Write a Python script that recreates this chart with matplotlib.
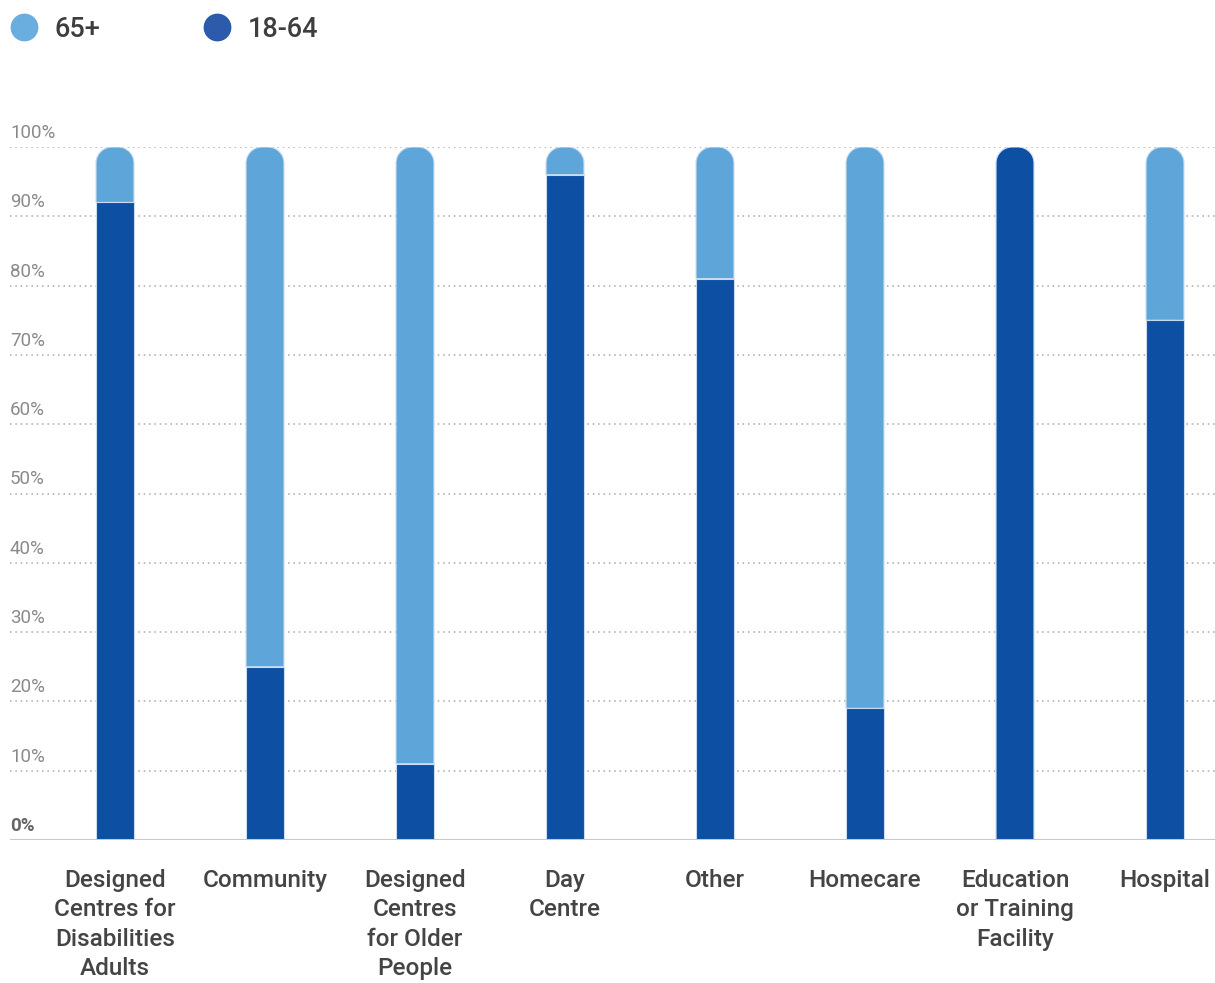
import matplotlib
matplotlib.use("Agg")
import matplotlib.pyplot as plt
from matplotlib.path import Path
from matplotlib.patches import PathPatch
from matplotlib.lines import Line2D
import matplotlib.transforms as mtransforms

categories = [
    "Designed\nCentres for\nDisabilities\nAdults",
    "Community",
    "Designed\nCentres\nfor Older\nPeople",
    "Day\nCentre",
    "Other",
    "Homecare",
    "Education\nor Training\nFacility",
    "Hospital",
]
age_18_64 = [92, 25, 11, 96, 81, 19, 100, 75]
age_65_plus = [8, 75, 89, 4, 19, 81, 0, 25]
y_ticks = [0, 10, 20, 30, 40, 50, 60, 70, 80, 90, 100]

dark = "#0d4fa3"
light = "#5ea6da"
edge = "#c9dcf0"

plt.rcParams["font.family"] = ["Roboto", "Liberation Sans", "DejaVu Sans"]

fig = plt.figure(figsize=(12.15, 9.83), dpi=100)
ax = fig.add_axes([10 / 1215, 1 - 840 / 983, 1205 / 1215, 693 / 983])
ax.set_xlim(-0.7, -0.7 + 1205 / 150)
ax.set_ylim(0, 100)
ax.axis("off")

width = 0.253
# corner radius of the rounded cap, in data units (x, y)
rx = 16 / 150
ry = 16 / 6.93


def rounded_top(x0, y0, w, h):
    k = 0.5523
    x1, y1 = x0 + w, y0 + h
    verts = [
        (x0, y0), (x1, y0), (x1, y1 - ry),
        (x1, y1 - ry + k * ry), (x1 - rx + k * rx, y1), (x1 - rx, y1),
        (x0 + rx, y1),
        (x0 + rx - k * rx, y1), (x0, y1 - ry + k * ry), (x0, y1 - ry),
        (x0, y0),
    ]
    codes = [Path.MOVETO, Path.LINETO, Path.LINETO,
             Path.CURVE4, Path.CURVE4, Path.CURVE4,
             Path.LINETO,
             Path.CURVE4, Path.CURVE4, Path.CURVE4,
             Path.CLOSEPOLY]
    return Path(verts, codes)


# grid lines
for t in y_ticks[1:]:
    ax.axhline(t, color="#a8a8a8", lw=1.1, ls=(0, (1, 2.5)), zorder=0)
ax.axhline(0, color="#c8c8c8", lw=2.2, zorder=3)

for i in range(len(categories)):
    lo = age_18_64[i]
    hi = age_65_plus[i]
    x0 = i - width / 2
    if hi > 0:
        ax.bar(i, lo, width=width, color=dark, edgecolor=edge, lw=0.8, zorder=2)
        p = rounded_top(x0, lo, width, hi)
        ax.add_patch(PathPatch(p, facecolor=light, edgecolor=edge, lw=0.8, zorder=2))
    else:
        p = rounded_top(x0, 0, width, lo)
        ax.add_patch(PathPatch(p, facecolor=dark, edgecolor=edge, lw=0.8, zorder=2))

# y labels sit just above their grid line
trans = mtransforms.offset_copy(ax.get_yaxis_transform(), fig=fig, y=14, units="dots")
for t in y_ticks:
    if t == 0:
        ax.text(0, t, "0%", transform=trans, fontsize=13.5, color="#666666",
                fontweight="bold", va="center", ha="left")
    else:
        ax.text(0, t, f"{t}%", transform=trans, fontsize=13.5, color="#8a8a8a",
                va="center", ha="left")

# category labels
for i, c in enumerate(categories):
    ax.text(i, 0, c, transform=mtransforms.offset_copy(ax.transData, fig=fig, y=-29, units="dots"),
            ha="center", va="top", fontsize=17.5, color="#444444", linespacing=1.36,
            fontweight="medium")

# legend
fig.legend(
    handles=[
        Line2D([], [], marker="o", ls="", ms=19, color="#6aaee0", label="65+"),
        Line2D([], [], marker="o", ls="", ms=19, color="#2c5bab", label="18-64"),
    ],
    loc="upper left", bbox_to_anchor=(-9 / 1215, 1 + 3 / 983), ncol=2, frameon=False,
    labelcolor="#3e3e3e", handletextpad=0.65, columnspacing=3.8,
    borderaxespad=0.4, handlelength=1.0, borderpad=0.3,
    prop={"weight": "medium", "size": 19.5},
)

fig.savefig("out.png", dpi=100)
